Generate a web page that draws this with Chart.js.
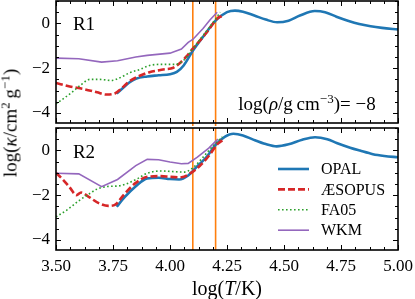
<!DOCTYPE html>
<html>
<head>
<meta charset="utf-8">
<script src="https://cdn.jsdelivr.net/npm/chart.js@4.4.1/dist/chart.umd.min.js"></script>
<style>
  html, body { margin:0; padding:0; background:#fff; }
  #wrap { position:relative; width:415px; height:299px; overflow:hidden; background:#fff; }
  canvas { position:absolute; left:0; }
  .lbl { position:absolute; font-family:'Liberation Serif', serif; font-size:19px; color:#000;
         white-space:nowrap; line-height:1; transform:translate(-50%,-50%); }
  .lbl sup { font-size:13px; vertical-align:0; position:relative; top:-0.55em; }
  .rot { transform:translate(-50%,-50%) rotate(-90deg); }
</style>
</head>
<body>
<div id="wrap">
  <canvas id="c1" width="415" height="126" style="top:0px"></canvas>
  <canvas id="c2" width="415" height="173" style="top:126px"></canvas>
  <div class="lbl" style="left:84px;top:23px">R1</div>
  <div class="lbl" style="left:84px;top:151px">R2</div>
  <div class="lbl" style="left:307px;top:103px">log(<i>ρ</i>/g&#8201;cm<sup>−3</sup>)= −8</div>
  <div class="lbl" style="left:227px;top:288px;font-size:20px">log(<i>T</i>/K)</div>
  <div class="lbl rot" style="left:10px;top:123px">log(<i>κ</i>/cm<sup>2</sup>&#8201;g<sup>−1</sup>)</div>
</div>
<script>
// ---------- data ----------
// Panel R1
const opalT1 = [3.766,3.79,3.82,3.85,3.9,3.95,4.0,4.03,4.06,4.1,4.15,4.2,4.25,4.285,4.32,4.37,4.42,4.47,4.52,4.57,4.635,4.68,4.73,4.78,4.83,4.88,4.93,5.0];
const opalK1 = [-3.13,-2.92,-2.65,-2.47,-2.37,-2.32,-2.27,-2.17,-1.88,-1.22,-0.53,0.12,0.5,0.57,0.52,0.35,0.17,0.05,0.12,0.35,0.55,0.5,0.3,0.12,-0.03,-0.13,-0.2,-0.27];
const aesT1 = [3.5,3.56,3.62,3.68,3.72,3.76,3.79,3.82,3.87,3.91,3.97,4.015,4.04,4.07,4.1,4.16,4.207,4.227];
const aesK1 = [-2.66,-2.82,-2.93,-3.08,-3.18,-3.12,-2.88,-2.6,-2.33,-2.18,-2.06,-1.98,-1.8,-1.5,-1.13,-0.42,0.22,0.32];
const faT1 = [3.5,3.53,3.57,3.605,3.65,3.69,3.744,3.78,3.825,3.87,3.91,3.97,4.02,4.06,4.095,4.146,4.197,4.22];
const faK1 = [-3.6,-3.38,-3.08,-2.78,-2.5,-2.5,-2.55,-2.43,-2.2,-2.05,-1.88,-1.83,-1.83,-1.65,-1.2,-0.53,0.15,0.5];
const wkmT1 = [3.5,3.6,3.7,3.77,3.85,3.9,4.0,4.05,4.08,4.1,4.145,4.175,4.207];
const wkmK1 = [-1.55,-1.58,-1.73,-1.67,-1.5,-1.43,-1.33,-1.15,-0.85,-0.72,-0.23,0.15,0.5];
// Panel R2
const opalT2 = [3.766,3.8,3.85,3.9,3.95,4.0,4.04,4.08,4.12,4.16,4.2,4.24,4.278,4.32,4.365,4.42,4.468,4.52,4.58,4.636,4.69,4.731,4.79,4.833,4.89,4.94,5.0];
const opalK2 = [-2.52,-2.1,-1.6,-1.25,-1.22,-1.28,-1.3,-1.12,-0.7,-0.3,0.25,0.6,0.74,0.67,0.48,0.28,0.18,0.27,0.48,0.59,0.5,0.33,0.12,-0.01,-0.17,-0.25,-0.31];
const aesT2 = [3.5,3.53,3.56,3.59,3.61,3.64,3.69,3.73,3.76,3.8,3.85,3.9,3.96,4.0,4.05,4.09,4.13,4.17,4.21,4.23];
const aesK2 = [-1.0,-1.3,-1.65,-2.0,-1.88,-2.05,-2.37,-2.48,-2.42,-1.95,-1.45,-1.18,-1.15,-1.18,-1.2,-1.02,-0.7,-0.25,0.3,0.45];
const faT2 = [3.5,3.55,3.6,3.64,3.68,3.72,3.78,3.82,3.86,3.9,3.96,4.02,4.06,4.1,4.14,4.2,4.23];
const faK2 = [-2.97,-2.65,-2.25,-1.98,-1.73,-1.62,-1.58,-1.45,-1.25,-1.02,-0.92,-0.95,-0.97,-0.78,-0.36,0.33,0.6];
const wkmT2 = [3.5,3.6,3.7,3.77,3.85,3.9,3.95,4.0,4.05,4.08,4.12,4.17,4.21];
const wkmK2 = [-1.02,-1.05,-1.62,-1.3,-0.68,-0.4,-0.42,-0.52,-0.6,-0.58,-0.3,0.1,0.5];
// vertical markers and axis settings
const vlines = [4.1, 4.2];
const xTicks = [3.5, 3.75, 4.0, 4.25, 4.5, 4.75, 5.0];
const yTicks = [-4, -2, 0];
const seriesNames = ['OPAL', 'ÆSOPUS', 'FA05', 'WKM'];
const X_MIN = 3.5, X_MAX = 5.0, Y_MIN = -4.45, Y_MAX = 1.0;

const FONT = "'Liberation Serif', serif";
const zip = (a, b) => a.map((v, i) => ({x: v, y: b[i]}));

function seriesSets(oT, oK, aT, aK, fT, fK, wT, wK, vlineExtend) {
  const sets = [
    {label: seriesNames[0], data: zip(oT, oK), borderColor: '#1f77b4', borderWidth: 2.6, cubicInterpolationMode: 'monotone', order: 4},
    {label: seriesNames[1], data: zip(aT, aK), borderColor: '#d62728', borderWidth: 2.6, borderDash: [7, 3], cubicInterpolationMode: 'monotone', order: 3},
    {label: seriesNames[2], data: zip(fT, fK), borderColor: '#2ca02c', borderWidth: 1.6, borderDash: [1.6, 2.4], cubicInterpolationMode: 'monotone', order: 2},
    {label: seriesNames[3], data: zip(wT, wK), borderColor: '#9467bd', borderWidth: 1.6, tension: 0, order: 1},
  ];
  vlines.forEach(v => sets.push({
    label: '_v', data: [{x: v, y: Y_MIN - vlineExtend}, {x: v, y: Y_MAX}],
    borderColor: '#ff7f0e', borderWidth: 1.6, order: 5, clip: false, isVline: true
  }));
  sets.forEach(s => { s.pointRadius = 0; s.fill = false; s.borderCapStyle = 'butt'; });
  return sets;
}

const framePlugin = {
  id: 'frame',
  afterDatasetsDraw(chart) {
    const {ctx, chartArea: a, scales: {x, y}} = chart;
    ctx.save();
    ctx.strokeStyle = '#000';
    ctx.lineWidth = 1;
    for (let i = 0; i <= 24; i++) {
      const v = X_MIN + i * 0.0625;
      const len = (i % 4 === 0) ? 5 : 3;
      const px = Math.round(x.getPixelForValue(v)) + 0.5;
      ctx.beginPath();
      ctx.moveTo(px, a.top); ctx.lineTo(px, a.top + len);
      ctx.moveTo(px, a.bottom); ctx.lineTo(px, a.bottom - len);
      ctx.stroke();
    }
    for (let v = -4.5; v <= 1.0001; v += 0.5) {
      if (v < Y_MIN || v > Y_MAX) continue;
      const major = Math.abs(v / 2 - Math.round(v / 2)) < 1e-6;
      const len = major ? 5 : 3;
      const py = Math.round(y.getPixelForValue(v)) + 0.5;
      ctx.beginPath();
      ctx.moveTo(a.left, py); ctx.lineTo(a.left + len, py);
      ctx.moveTo(a.right, py); ctx.lineTo(a.right - len, py);
      ctx.stroke();
    }
    ctx.lineWidth = 1.6;
    ctx.strokeRect(a.left, a.top, a.right - a.left, a.bottom - a.top);
    ctx.restore();
  }
};

const legendPlugin = {
  id: 'legendBox',
  afterDraw(chart) {
    const o = chart.options.plugins.legendBox;
    if (!o || !o.show) return;
    const ctx = chart.ctx;
    ctx.save();
    ctx.font = '16px ' + FONT;
    ctx.fillStyle = '#000';
    ctx.textBaseline = 'middle';
    chart.data.datasets.filter(d => !d.isVline).forEach((d, i) => {
      const yy = o.y + i * o.row;
      ctx.strokeStyle = d.borderColor;
      ctx.lineWidth = d.borderWidth;
      ctx.setLineDash(d.borderDash || []);
      ctx.lineCap = 'butt';
      ctx.beginPath();
      ctx.moveTo(o.x, yy); ctx.lineTo(o.x + o.len, yy);
      ctx.stroke();
      ctx.setLineDash([]);
      ctx.fillText(d.label, o.x + o.len + o.gap, yy + 1);
    });
    ctx.restore();
  }
};

function makeOptions(showX, pad, legend) {
  return {
    responsive: false, animation: false, devicePixelRatio: 1,
    layout: {padding: pad},
    plugins: {legend: {display: false}, tooltip: {enabled: false}, legendBox: legend},
    scales: {
      x: {
        type: 'linear', min: X_MIN, max: X_MAX, display: showX,
        grid: {display: false, drawTicks: false}, border: {display: false},
        afterBuildTicks: s => { s.ticks = xTicks.map(v => ({value: v})); },
        afterFit: s => { s.height = showX ? 49 : 0; s.paddingLeft = 0; s.paddingRight = 0; },
        ticks: {color: '#000', padding: 6, maxRotation: 0, font: {family: FONT, size: 17},
                callback: v => Number(v).toFixed(2)}
      },
      y: {
        type: 'linear', min: Y_MIN, max: Y_MAX,
        grid: {display: false, drawTicks: false}, border: {display: false},
        afterBuildTicks: s => { s.ticks = yTicks.map(v => ({value: v})); },
        afterFit: s => { s.width = 56; s.paddingTop = 0; s.paddingBottom = 0; },
        ticks: {color: '#000', padding: 6, font: {family: FONT, size: 17},
                callback: v => (v < 0 ? '\u2212' : '') + Math.abs(v)}
      }
    }
  };
}

new Chart(document.getElementById('c1'), {
  type: 'line',
  data: {datasets: seriesSets(opalT1, opalK1, aesT1, aesK1, faT1, faK1, wkmT1, wkmK1, 0.25)},
  options: makeOptions(false, {top: 1, right: 17, bottom: 3, left: 0}, {show: false}),
  plugins: [framePlugin]
});

new Chart(document.getElementById('c2'), {
  type: 'line',
  data: {datasets: seriesSets(opalT2, opalK2, aesT2, aesK2, faT2, faK2, wkmT2, wkmK2, 0)},
  options: makeOptions(true, {top: 2, right: 17, bottom: 0, left: 0}, {show: true, x: 278, y: 43, row: 20.4, len: 31, gap: 12}),
  plugins: [framePlugin, legendPlugin]
});
</script>
</body>
</html>
